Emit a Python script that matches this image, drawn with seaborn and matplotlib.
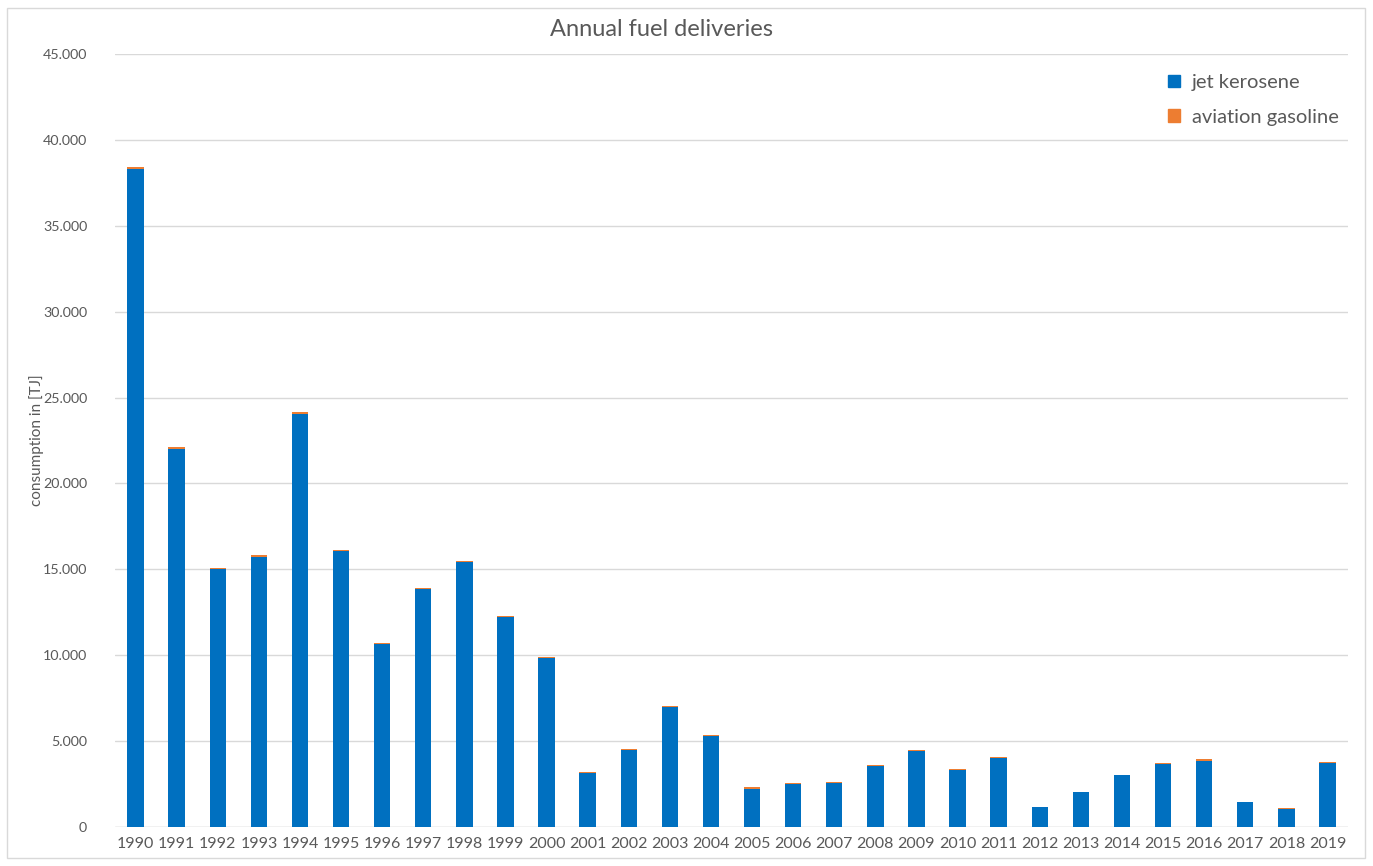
# Annual fuel deliveries - stacked bars (jet kerosene + aviation gasoline)
import pandas as pd
import matplotlib.pyplot as plt
import matplotlib.patches as mpatches
import matplotlib.ticker as mticker
import seaborn as sns

# data (TJ)
years = [str(y) for y in range(1990, 2020)]
jet_kerosene = [38320, 22030, 15030, 15740, 24060, 16060, 10650, 13830, 15440, 12220,
                9840, 3140, 4480, 6980, 5280, 2230, 2490, 2560, 3570, 4410,
                3290, 4030, 1160, 2030, 3010, 3670, 3850, 1460, 1030, 3740]
aviation_gasoline = [90, 80, 70, 70, 80, 70, 60, 80, 70, 60,
                     60, 70, 80, 80, 100, 80, 90, 80, 30, 80,
                     80, 30, 30, 20, 30, 30, 80, 20, 70, 70]

df = pd.DataFrame({"year": years, "jet": jet_kerosene, "avgas": aviation_gasoline})
df["total"] = df["jet"] + df["avgas"]

blue = "#0070C0"
orange = "#ED7D31"
grey_txt = "#595959"

sns.set_style("white")
plt.rcParams["font.family"] = ["Lato", "DejaVu Sans"]

fig = plt.figure(figsize=(13.73, 8.66), dpi=100)
ax = fig.add_axes([115 / 1373, 1 - 827 / 866, 1233 / 1373, 773 / 866])

# orange total behind, blue jet kerosene on top -> stacked look
sns.barplot(data=df, x="year", y="total", color=orange, width=0.4, ax=ax,
            saturation=1, edgecolor="none", zorder=2)
sns.barplot(data=df, x="year", y="jet", color=blue, width=0.4, ax=ax,
            saturation=1, edgecolor="none", zorder=3)

ax.set_xlim(-0.5, 29.5)
ax.set_ylim(0, 45000)
ax.yaxis.set_major_locator(mticker.MultipleLocator(5000))
ax.yaxis.set_major_formatter(mticker.FuncFormatter(
    lambda v, p: "0" if v == 0 else f"{int(v):,}".replace(",", ".")))
ax.grid(axis="y", color="#D9D9D9", linewidth=1, zorder=0)
for s in ax.spines.values():
    s.set_visible(False)
ax.axhline(0, color="#D9D9D9", linewidth=1, zorder=1)

ax.tick_params(axis="x", length=0, labelsize=11.5, labelcolor=grey_txt, pad=7)
ax.tick_params(axis="y", length=0, labelsize=10.3, labelcolor=grey_txt, pad=20)
ax.set_xlabel("")
ax.set_ylabel("consumption in [TJ]", fontsize=11, color=grey_txt, labelpad=-1)

fig.text(661 / 1373, 1 - 29 / 866, "Annual fuel deliveries", ha="center", va="center",
         fontsize=17, color=grey_txt)

handles = [mpatches.Patch(color=blue, label="jet kerosene"),
           mpatches.Patch(color=orange, label="aviation gasoline")]
leg = ax.legend(handles=handles, loc="upper right", bbox_to_anchor=(1.007, 0.997),
                frameon=False, fontsize=14.5, labelspacing=0.85, handlelength=0.55,
                handleheight=0.55, handletextpad=0.6)
for t in leg.get_texts():
    t.set_color(grey_txt)

# light outer frame around the chart
fig.patches.append(mpatches.Rectangle((7 / 1373, 8 / 866), 1358 / 1373, 850 / 866,
                                      transform=fig.transFigure, fill=False,
                                      edgecolor="#D9D9D9", linewidth=1))

fig.savefig("out.png", dpi=100)
